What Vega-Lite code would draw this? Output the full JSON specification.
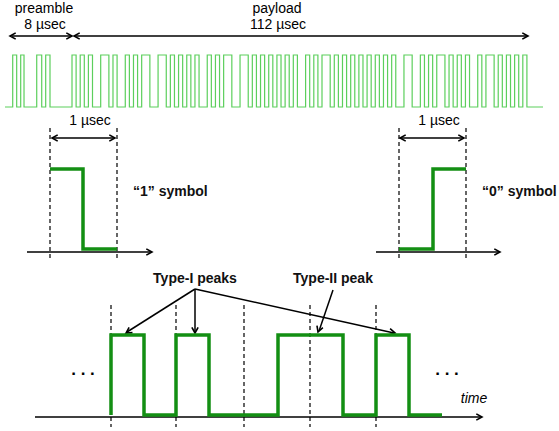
{
"$schema":"https://vega.github.io/schema/vega-lite/v6.json",
"width":559,"height":431,"padding":0,"autosize":"none","background":"white",
"config":{"view":{"stroke":null},"font":"Liberation Sans"},
"resolve":{"scale":{"x":"independent","y":"independent"}},
"datasets":{
"wave":[
{"t":-16.35,"v":0},{"t":-14.47,"v":1},{"t":-13.50,"v":0},{"t":-12.52,"v":1},{"t":-11.71,"v":0},{"t":-8.61,"v":1},{"t":-7.39,"v":0},{"t":-6.42,"v":1},{"t":-5.37,"v":0},
{"t":0,"v":1},{"t":1,"v":0},{"t":2,"v":1},{"t":3,"v":0},{"t":4,"v":1},{"t":5,"v":0},{"t":6,"v":0},{"t":7,"v":1},{"t":8,"v":1},{"t":9,"v":0},{"t":10,"v":1},{"t":11,"v":0},{"t":12,"v":0},{"t":13,"v":1},{"t":14,"v":0},{"t":15,"v":1},
{"t":16,"v":0},{"t":17,"v":1},{"t":18,"v":1},{"t":19,"v":0},{"t":20,"v":0},{"t":21,"v":1},{"t":22,"v":1},{"t":23,"v":0},{"t":24,"v":1},{"t":25,"v":0},{"t":26,"v":1},{"t":27,"v":0},{"t":28,"v":1},{"t":29,"v":0},{"t":30,"v":1},{"t":31,"v":0},
{"t":32,"v":0},{"t":33,"v":1},{"t":34,"v":0},{"t":35,"v":1},{"t":36,"v":0},{"t":37,"v":1},{"t":38,"v":1},{"t":39,"v":0},{"t":40,"v":0},{"t":41,"v":1},{"t":42,"v":1},{"t":43,"v":0},{"t":44,"v":1},{"t":45,"v":0},{"t":46,"v":1},{"t":47,"v":0},
{"t":48,"v":1},{"t":49,"v":0},{"t":50,"v":1},{"t":51,"v":0},{"t":52,"v":1},{"t":53,"v":0},{"t":54,"v":1},{"t":55,"v":0},{"t":56,"v":0},{"t":57,"v":1},{"t":58,"v":0},{"t":59,"v":1},{"t":60,"v":0},{"t":61,"v":1},{"t":62,"v":1},{"t":63,"v":0},
{"t":64,"v":1},{"t":65,"v":0},{"t":66,"v":1},{"t":67,"v":0},{"t":68,"v":1},{"t":69,"v":0},{"t":70,"v":1},{"t":71,"v":0},{"t":72,"v":1},{"t":73,"v":0},{"t":74,"v":1},{"t":75,"v":0},{"t":76,"v":1},{"t":77,"v":0},{"t":78,"v":1},{"t":79,"v":0},
{"t":80,"v":0},{"t":81,"v":1},{"t":82,"v":1},{"t":83,"v":0},{"t":84,"v":0},{"t":85,"v":1},{"t":86,"v":0},{"t":87,"v":1},{"t":88,"v":0},{"t":89,"v":1},{"t":90,"v":1},{"t":91,"v":0},{"t":92,"v":1},{"t":93,"v":0},{"t":94,"v":1},{"t":95,"v":0},
{"t":96,"v":1},{"t":97,"v":0},{"t":98,"v":0},{"t":99,"v":1},{"t":100,"v":0},{"t":101,"v":1},{"t":102,"v":1},{"t":103,"v":0},{"t":104,"v":1},{"t":105,"v":0},{"t":106,"v":1},{"t":107,"v":0},{"t":108,"v":1},{"t":109,"v":0},{"t":110,"v":1},{"t":111,"v":0},
{"t":114.93,"v":0}
],
"segs":[
{"x":12,"y":36,"x2":71,"y2":36},
{"x":75,"y":36,"x2":527,"y2":36},
{"x":53,"y":138,"x2":114,"y2":138},
{"x":401,"y":138,"x2":463,"y2":138},
{"x":27,"y":252,"x2":151,"y2":252},
{"x":376,"y":252,"x2":499,"y2":252},
{"x":35,"y":417,"x2":481,"y2":417},
{"x":195,"y":289,"x2":127,"y2":332},
{"x":195,"y":289,"x2":195,"y2":332},
{"x":195,"y":289,"x2":394,"y2":333},
{"x":333,"y":290,"x2":319,"y2":331}
],
"heads":[
{"x":10,"y":36,"a":180},{"x":72,"y":36,"a":0},{"x":74,"y":36,"a":180},{"x":528,"y":36,"a":0},
{"x":52,"y":138,"a":180},{"x":115,"y":138,"a":0},{"x":400,"y":138,"a":180},{"x":464,"y":138,"a":0},
{"x":152,"y":252,"a":0},{"x":500,"y":252,"a":0},{"x":482,"y":417,"a":0},
{"x":126,"y":333,"a":147.5},{"x":195,"y":333,"a":90},{"x":395,"y":333,"a":12.4},{"x":318,"y":332,"a":109.7}
],
"dash":[
{"x":50,"y":128,"y2":260},{"x":117,"y":128,"y2":260},{"x":399,"y":128,"y2":260},{"x":466,"y":128,"y2":260},
{"x":111,"y":305,"y2":427},{"x":176,"y":305,"y2":427},{"x":244,"y":305,"y2":427},{"x":310,"y":305,"y2":427},{"x":376,"y":305,"y2":427}
],
"sym":[
{"g":"s1","o":0,"x":50,"y":169},{"g":"s1","o":1,"x":83,"y":169},{"g":"s1","o":2,"x":83,"y":249},{"g":"s1","o":3,"x":117,"y":249},
{"g":"s0","o":0,"x":399,"y":249},{"g":"s0","o":1,"x":433,"y":249},{"g":"s0","o":2,"x":433,"y":169},{"g":"s0","o":3,"x":466,"y":169},
{"g":"b","o":0,"x":111,"y":415},{"g":"b","o":1,"x":111,"y":335},{"g":"b","o":2,"x":144,"y":335},{"g":"b","o":3,"x":144,"y":415},
{"g":"b","o":4,"x":176,"y":415},{"g":"b","o":5,"x":176,"y":335},{"g":"b","o":6,"x":209,"y":335},{"g":"b","o":7,"x":209,"y":415},
{"g":"b","o":8,"x":278,"y":415},{"g":"b","o":9,"x":278,"y":335},{"g":"b","o":10,"x":343,"y":335},{"g":"b","o":11,"x":343,"y":415},
{"g":"b","o":12,"x":376,"y":415},{"g":"b","o":13,"x":376,"y":335},{"g":"b","o":14,"x":409,"y":335},{"g":"b","o":15,"x":409,"y":415},
{"g":"b","o":16,"x":442,"y":415}
],
"reg":[
{"x":44,"y":12.5,"label":"preamble"},{"x":45,"y":28.5,"label":"8 µsec"},
{"x":277,"y":12.5,"label":"payload"},{"x":278,"y":28.5,"label":"112 µsec"},
{"x":90,"y":125,"label":"1 µsec"},{"x":439,"y":125,"label":"1 µsec"}
],
"boldc":[{"x":195,"y":283,"label":"Type-I peaks"},{"x":333,"y":283,"label":"Type-II peak"}],
"boldl":[{"x":133,"y":196,"label":"“1” symbol"},{"x":482,"y":196,"label":"“0” symbol"}],
"ital":[{"x":474,"y":403,"label":"time"}],
"dots":[{"x":83,"y":375,"label":". . ."},{"x":447,"y":375,"label":". . ."}]
},
"layer":[
{"data":{"name":"wave"},
 "mark":{"type":"line","interpolate":"step-after","color":"#5ccf5c","strokeWidth":1.2},
 "encoding":{
  "x":{"field":"t","type":"quantitative","scale":{"domain":[-17.57,118.83],"nice":false,"zero":false},"axis":null},
  "y":{"field":"v","type":"quantitative","scale":{"domain":[-6.23,2.058],"nice":false,"zero":false},"axis":null}}},
{"data":{"name":"segs"},
 "mark":{"type":"rule","color":"black","strokeWidth":1.5},
 "encoding":{
  "x":{"field":"x","type":"quantitative","scale":{"domain":[0,559],"nice":false,"zero":false},"axis":null},
  "y":{"field":"y","type":"quantitative","scale":{"domain":[0,431],"nice":false,"zero":false,"reverse":true},"axis":null},
  "x2":{"field":"x2"},"y2":{"field":"y2"}}},
{"data":{"name":"dash"},
 "mark":{"type":"rule","color":"black","strokeWidth":1.2,"strokeDash":[4,3]},
 "encoding":{
  "x":{"field":"x","type":"quantitative","scale":{"domain":[0,559],"nice":false,"zero":false},"axis":null},
  "y":{"field":"y","type":"quantitative","scale":{"domain":[0,431],"nice":false,"zero":false,"reverse":true},"axis":null},
  "y2":{"field":"y2"}}},
{"data":{"name":"heads"},
 "mark":{"type":"point","shape":"M-1,-0.55L0,0L-1,0.55","filled":false,"color":"black","strokeWidth":1.6,"size":130,"opacity":1},
 "encoding":{
  "x":{"field":"x","type":"quantitative","scale":{"domain":[0,559],"nice":false,"zero":false},"axis":null},
  "y":{"field":"y","type":"quantitative","scale":{"domain":[0,431],"nice":false,"zero":false,"reverse":true},"axis":null},
  "angle":{"field":"a","type":"quantitative","scale":null}}},
{"data":{"name":"sym"},
 "mark":{"type":"line","color":"#138f13","strokeWidth":3.5,"strokeJoin":"miter","strokeCap":"butt"},
 "encoding":{
  "x":{"field":"x","type":"quantitative","scale":{"domain":[0,559],"nice":false,"zero":false},"axis":null},
  "y":{"field":"y","type":"quantitative","scale":{"domain":[0,431],"nice":false,"zero":false,"reverse":true},"axis":null},
  "detail":{"field":"g","type":"nominal"},
  "order":{"field":"o","type":"quantitative"}}},
{"data":{"name":"reg"},
 "mark":{"type":"text","align":"center","baseline":"alphabetic","fontSize":14,"color":"black"},
 "encoding":{
  "x":{"field":"x","type":"quantitative","scale":{"domain":[0,559],"nice":false,"zero":false},"axis":null},
  "y":{"field":"y","type":"quantitative","scale":{"domain":[0,431],"nice":false,"zero":false,"reverse":true},"axis":null},
  "text":{"field":"label"}}},
{"data":{"name":"boldc"},
 "mark":{"type":"text","align":"center","baseline":"alphabetic","fontSize":14,"fontWeight":"bold","color":"#111"},
 "encoding":{
  "x":{"field":"x","type":"quantitative","scale":{"domain":[0,559],"nice":false,"zero":false},"axis":null},
  "y":{"field":"y","type":"quantitative","scale":{"domain":[0,431],"nice":false,"zero":false,"reverse":true},"axis":null},
  "text":{"field":"label"}}},
{"data":{"name":"boldl"},
 "mark":{"type":"text","align":"left","baseline":"alphabetic","fontSize":14,"fontWeight":"bold","color":"#111"},
 "encoding":{
  "x":{"field":"x","type":"quantitative","scale":{"domain":[0,559],"nice":false,"zero":false},"axis":null},
  "y":{"field":"y","type":"quantitative","scale":{"domain":[0,431],"nice":false,"zero":false,"reverse":true},"axis":null},
  "text":{"field":"label"}}},
{"data":{"name":"ital"},
 "mark":{"type":"text","align":"center","baseline":"alphabetic","fontSize":14,"fontStyle":"italic","color":"black"},
 "encoding":{
  "x":{"field":"x","type":"quantitative","scale":{"domain":[0,559],"nice":false,"zero":false},"axis":null},
  "y":{"field":"y","type":"quantitative","scale":{"domain":[0,431],"nice":false,"zero":false,"reverse":true},"axis":null},
  "text":{"field":"label"}}},
{"data":{"name":"dots"},
 "mark":{"type":"text","align":"center","baseline":"alphabetic","fontSize":17,"fontWeight":"bold","color":"black"},
 "encoding":{
  "x":{"field":"x","type":"quantitative","scale":{"domain":[0,559],"nice":false,"zero":false},"axis":null},
  "y":{"field":"y","type":"quantitative","scale":{"domain":[0,431],"nice":false,"zero":false,"reverse":true},"axis":null},
  "text":{"field":"label"}}}
]
}
